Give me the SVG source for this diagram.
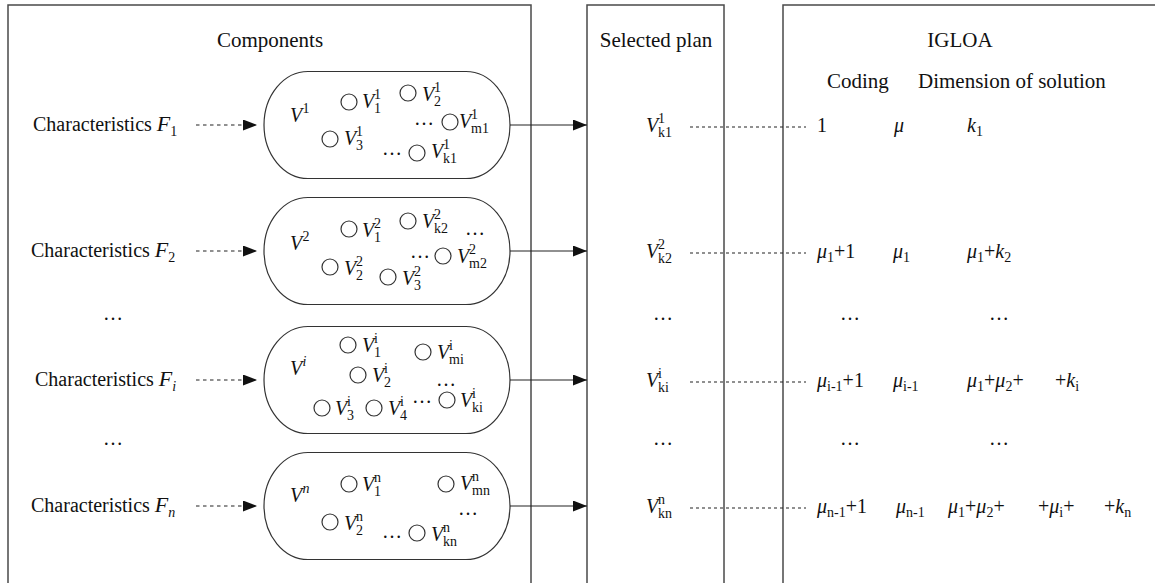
<svg xmlns="http://www.w3.org/2000/svg" width="1155" height="583" viewBox="0 0 1155 583">
  <style>
    .t { font-family: "Liberation Serif", "Times New Roman", serif; font-size: 20px; fill: #111; }
    .h { font-size: 21px; }
    .i { font-style: italic; }
    .f { font-style: italic; font-size: 22px; }
    .s { font-size: 14px; font-style: normal; }
    .si { font-size: 14px; font-style: italic; }
    .panel { fill: none; stroke: #4a4a4a; stroke-width: 1.5; }
    .oval { fill: #fff; stroke: #333; stroke-width: 1.2; }
    .dot { fill: none; stroke: #333; stroke-width: 1.2; }
    .feed { stroke: #222; stroke-width: 1.2; stroke-dasharray: 3.5 3.5; fill: none; }
    .link { stroke: #222; stroke-width: 1.2; fill: none; }
    .map { stroke: #222; stroke-width: 1.2; stroke-dasharray: 3 3; fill: none; }
  </style>
  <defs>
    <marker id="head" markerUnits="userSpaceOnUse" markerWidth="14" markerHeight="11" refX="14" refY="5.5" orient="auto">
      <path d="M0,0 L14,5.5 L0,11 z" fill="#111"/>
    </marker>
  </defs>

  <rect width="1155" height="583" fill="#fff"/>

  <!-- panels -->
  <g id="components-panel">
    <rect class="panel" x="8" y="5" width="523" height="600"/>
    <text class="t h" x="270" y="47" text-anchor="middle">Components</text>
  </g>
  <g id="plan-panel">
    <rect class="panel" x="587" y="5" width="137" height="600"/>
    <text class="t h" x="656" y="47" text-anchor="middle">Selected plan</text>
  </g>
  <g id="igloa-panel">
    <rect class="panel" x="783" y="5" width="420" height="600"/>
    <text class="t h" x="960" y="47" text-anchor="middle">IGLOA</text>
    <text class="t h" x="827" y="88">Coding</text>
    <text class="t h" x="918" y="88">Dimension of solution</text>
  </g>

  <!-- characteristic labels -->
  <g id="char-1"><text class="t" x="33" y="131">Characteristics <tspan class="f">F</tspan><tspan class="s" dy="5">1</tspan></text></g>
  <g id="char-2"><text class="t" x="31" y="257">Characteristics <tspan class="f">F</tspan><tspan class="s" dy="5">2</tspan></text></g>
  <g id="char-i"><text class="t" x="35" y="386">Characteristics <tspan class="f">F</tspan><tspan class="si" dy="5">i</tspan></text></g>
  <g id="char-n"><text class="t" x="31" y="512">Characteristics <tspan class="f">F</tspan><tspan class="si" dy="5">n</tspan></text></g>
  <g id="left-ellipses">
    <text class="t" x="103" y="320">…</text>
    <text class="t" x="103" y="445">…</text>
  </g>

  <!-- component set 1 -->
  <g id="set-1">
    <rect class="oval" x="264" y="71.5" width="246" height="107" rx="44" ry="53.5"/>
    <text class="t"><tspan class="i" x="290" y="122">V</tspan><tspan class="s" x="302.5" y="113">1</tspan></text>
    <circle class="dot" cx="349" cy="102" r="8"/>
    <text class="t"><tspan class="i" x="362" y="108">V</tspan><tspan class="s" x="374" y="99">1</tspan><tspan class="s" x="374" y="113">1</tspan></text>
    <circle class="dot" cx="408" cy="93" r="8"/>
    <text class="t"><tspan class="i" x="422" y="101">V</tspan><tspan class="s" x="434" y="92">1</tspan><tspan class="s" x="434" y="106">2</tspan></text>
    <text class="t" x="414" y="125">…</text>
    <circle class="dot" cx="450" cy="122" r="8"/>
    <text class="t"><tspan class="i" x="459" y="128">V</tspan><tspan class="s" x="471" y="119">1</tspan><tspan class="s" x="471" y="133">m1</tspan></text>
    <circle class="dot" cx="330" cy="139" r="8"/>
    <text class="t"><tspan class="i" x="344" y="145">V</tspan><tspan class="s" x="356" y="136">1</tspan><tspan class="s" x="356" y="150">3</tspan></text>
    <text class="t" x="382" y="155">…</text>
    <circle class="dot" cx="417" cy="153" r="8"/>
    <text class="t"><tspan class="i" x="431" y="158">V</tspan><tspan class="s" x="443" y="149">1</tspan><tspan class="s" x="443" y="163">k1</tspan></text>
  </g>

  <!-- component set 2 -->
  <g id="set-2">
    <rect class="oval" x="264" y="197.5" width="246" height="107" rx="44" ry="53.5"/>
    <text class="t"><tspan class="i" x="290" y="250">V</tspan><tspan class="s" x="302.5" y="241">2</tspan></text>
    <circle class="dot" cx="349" cy="229" r="8"/>
    <text class="t"><tspan class="i" x="362" y="237">V</tspan><tspan class="s" x="374" y="228">2</tspan><tspan class="s" x="374" y="242">1</tspan></text>
    <circle class="dot" cx="408" cy="221" r="8"/>
    <text class="t"><tspan class="i" x="422" y="228">V</tspan><tspan class="s" x="434" y="219">2</tspan><tspan class="s" x="434" y="233">k2</tspan></text>
    <text class="t" x="465" y="235">…</text>
    <text class="t" x="410" y="258">…</text>
    <circle class="dot" cx="443" cy="256" r="8"/>
    <text class="t"><tspan class="i" x="457" y="263">V</tspan><tspan class="s" x="469" y="254">2</tspan><tspan class="s" x="469" y="268">m2</tspan></text>
    <circle class="dot" cx="330" cy="267" r="8"/>
    <text class="t"><tspan class="i" x="344" y="275">V</tspan><tspan class="s" x="356" y="266">2</tspan><tspan class="s" x="356" y="280">2</tspan></text>
    <circle class="dot" cx="388" cy="277" r="8"/>
    <text class="t"><tspan class="i" x="402" y="285">V</tspan><tspan class="s" x="414" y="276">2</tspan><tspan class="s" x="414" y="290">3</tspan></text>
  </g>

  <!-- component set i -->
  <g id="set-i">
    <rect class="oval" x="264" y="326.5" width="246" height="107" rx="44" ry="53.5"/>
    <text class="t"><tspan class="i" x="290" y="375">V</tspan><tspan class="si" x="302.5" y="366">i</tspan></text>
    <circle class="dot" cx="348" cy="345" r="8"/>
    <text class="t"><tspan class="i" x="362" y="352">V</tspan><tspan class="s" x="374" y="343">i</tspan><tspan class="s" x="374" y="357">1</tspan></text>
    <circle class="dot" cx="423" cy="352" r="8"/>
    <text class="t"><tspan class="i" x="437" y="359">V</tspan><tspan class="s" x="449" y="350">i</tspan><tspan class="s" x="449" y="364">mi</tspan></text>
    <circle class="dot" cx="358" cy="375" r="8"/>
    <text class="t"><tspan class="i" x="372" y="382">V</tspan><tspan class="s" x="384" y="373">i</tspan><tspan class="s" x="384" y="387">2</tspan></text>
    <text class="t" x="436" y="386">…</text>
    <circle class="dot" cx="322" cy="408" r="8"/>
    <text class="t"><tspan class="i" x="335" y="415">V</tspan><tspan class="s" x="347" y="406">i</tspan><tspan class="s" x="347" y="420">3</tspan></text>
    <circle class="dot" cx="374" cy="408" r="8"/>
    <text class="t"><tspan class="i" x="388" y="415">V</tspan><tspan class="s" x="400" y="406">i</tspan><tspan class="s" x="400" y="420">4</tspan></text>
    <text class="t" x="412" y="403">…</text>
    <circle class="dot" cx="447" cy="400" r="8"/>
    <text class="t"><tspan class="i" x="460" y="407">V</tspan><tspan class="s" x="472" y="398">i</tspan><tspan class="s" x="472" y="412">ki</tspan></text>
  </g>

  <!-- component set n -->
  <g id="set-n">
    <rect class="oval" x="264" y="452.5" width="246" height="107" rx="44" ry="53.5"/>
    <text class="t"><tspan class="i" x="290" y="502">V</tspan><tspan class="si" x="302.5" y="493">n</tspan></text>
    <circle class="dot" cx="349" cy="484" r="8"/>
    <text class="t"><tspan class="i" x="362" y="491">V</tspan><tspan class="s" x="374" y="482">n</tspan><tspan class="s" x="374" y="496">1</tspan></text>
    <circle class="dot" cx="446" cy="484" r="8"/>
    <text class="t"><tspan class="i" x="460" y="490">V</tspan><tspan class="s" x="472" y="481">n</tspan><tspan class="s" x="472" y="495">mn</tspan></text>
    <text class="t" x="458" y="515">…</text>
    <circle class="dot" cx="330" cy="522" r="8"/>
    <text class="t"><tspan class="i" x="344" y="530">V</tspan><tspan class="s" x="356" y="521">n</tspan><tspan class="s" x="356" y="535">2</tspan></text>
    <text class="t" x="382" y="538">…</text>
    <circle class="dot" cx="417" cy="533" r="8"/>
    <text class="t"><tspan class="i" x="431" y="541">V</tspan><tspan class="s" x="443" y="532">n</tspan><tspan class="s" x="443" y="546">kn</tspan></text>
  </g>

  <!-- selected plan entries -->
  <g id="plan-1"><text class="t"><tspan class="i" x="646" y="132">V</tspan><tspan class="s" x="658" y="123">1</tspan><tspan class="s" x="658" y="137">k1</tspan></text></g>
  <g id="plan-2"><text class="t"><tspan class="i" x="646" y="258">V</tspan><tspan class="s" x="658" y="249">2</tspan><tspan class="s" x="658" y="263">k2</tspan></text></g>
  <g id="plan-i"><text class="t"><tspan class="i" x="646" y="387">V</tspan><tspan class="s" x="658" y="378">i</tspan><tspan class="s" x="658" y="392">ki</tspan></text></g>
  <g id="plan-n"><text class="t"><tspan class="i" x="646" y="513">V</tspan><tspan class="s" x="658" y="504">n</tspan><tspan class="s" x="658" y="518">kn</tspan></text></g>
  <g id="plan-ellipses">
    <text class="t" x="653" y="320">…</text>
    <text class="t" x="653" y="445">…</text>
  </g>

  <!-- coding and dimension values -->
  <g id="code-1">
    <text class="t" x="817" y="132">1</text>
    <text class="t i" x="894" y="132">μ</text>
    <text class="t"><tspan class="i" x="967" y="132">k</tspan><tspan class="s" dy="4">1</tspan></text>
  </g>
  <g id="code-2">
    <text class="t" x="817" y="258"><tspan class="i">μ</tspan><tspan class="s" dy="4">1</tspan><tspan dy="-4">+1</tspan></text>
    <text class="t" x="893" y="258"><tspan class="i">μ</tspan><tspan class="s" dy="4">1</tspan></text>
    <text class="t" x="967" y="258"><tspan class="i">μ</tspan><tspan class="s" dy="4">1</tspan><tspan dy="-4">+</tspan><tspan class="i">k</tspan><tspan class="s" dy="4">2</tspan></text>
  </g>
  <g id="code-ellipses">
    <text class="t" x="840" y="320">…</text>
    <text class="t" x="989" y="320">…</text>
    <text class="t" x="840" y="445">…</text>
    <text class="t" x="989" y="445">…</text>
  </g>
  <g id="code-i">
    <text class="t" x="817" y="387"><tspan class="i">μ</tspan><tspan class="s" dy="4">i-1</tspan><tspan dy="-4">+1</tspan></text>
    <text class="t" x="893" y="387"><tspan class="i">μ</tspan><tspan class="s" dy="4">i-1</tspan></text>
    <text class="t" x="967" y="387"><tspan class="i">μ</tspan><tspan class="s" dy="4">1</tspan><tspan dy="-4">+</tspan><tspan class="i">μ</tspan><tspan class="s" dy="4">2</tspan><tspan dy="-4">+</tspan></text>
    <text class="t" x="1055" y="387">+<tspan class="i">k</tspan><tspan class="s" dy="4">i</tspan></text>
  </g>
  <g id="code-n">
    <text class="t" x="817" y="513"><tspan class="i">μ</tspan><tspan class="s" dy="4">n-1</tspan><tspan dy="-4">+1</tspan></text>
    <text class="t" x="896" y="513"><tspan class="i">μ</tspan><tspan class="s" dy="4">n-1</tspan></text>
    <text class="t" x="948" y="513"><tspan class="i">μ</tspan><tspan class="s" dy="4">1</tspan><tspan dy="-4">+</tspan><tspan class="i">μ</tspan><tspan class="s" dy="4">2</tspan><tspan dy="-4">+</tspan></text>
    <text class="t" x="1038" y="513">+<tspan class="i">μ</tspan><tspan class="s" dy="4">i</tspan><tspan dy="-4">+</tspan></text>
    <text class="t" x="1104" y="513">+<tspan class="i">k</tspan><tspan class="s" dy="4">n</tspan></text>
  </g>

  <!-- connectors -->
  <g id="connectors">
    <line class="feed" x1="196" y1="125" x2="257" y2="125" marker-end="url(#head)"/>
    <line class="feed" x1="196" y1="251" x2="257" y2="251" marker-end="url(#head)"/>
    <line class="feed" x1="196" y1="380" x2="257" y2="380" marker-end="url(#head)"/>
    <line class="feed" x1="196" y1="506" x2="257" y2="506" marker-end="url(#head)"/>

    <line class="link" x1="510" y1="125" x2="587" y2="125" marker-end="url(#head)"/>
    <line class="link" x1="510" y1="251" x2="587" y2="251" marker-end="url(#head)"/>
    <line class="link" x1="510" y1="380" x2="587" y2="380" marker-end="url(#head)"/>
    <line class="link" x1="510" y1="506" x2="587" y2="506" marker-end="url(#head)"/>

    <line class="map" x1="690" y1="127" x2="806" y2="127"/>
    <line class="map" x1="690" y1="253" x2="806" y2="253"/>
    <line class="map" x1="690" y1="382" x2="806" y2="382"/>
    <line class="map" x1="690" y1="508" x2="806" y2="508"/>
  </g>
</svg>
